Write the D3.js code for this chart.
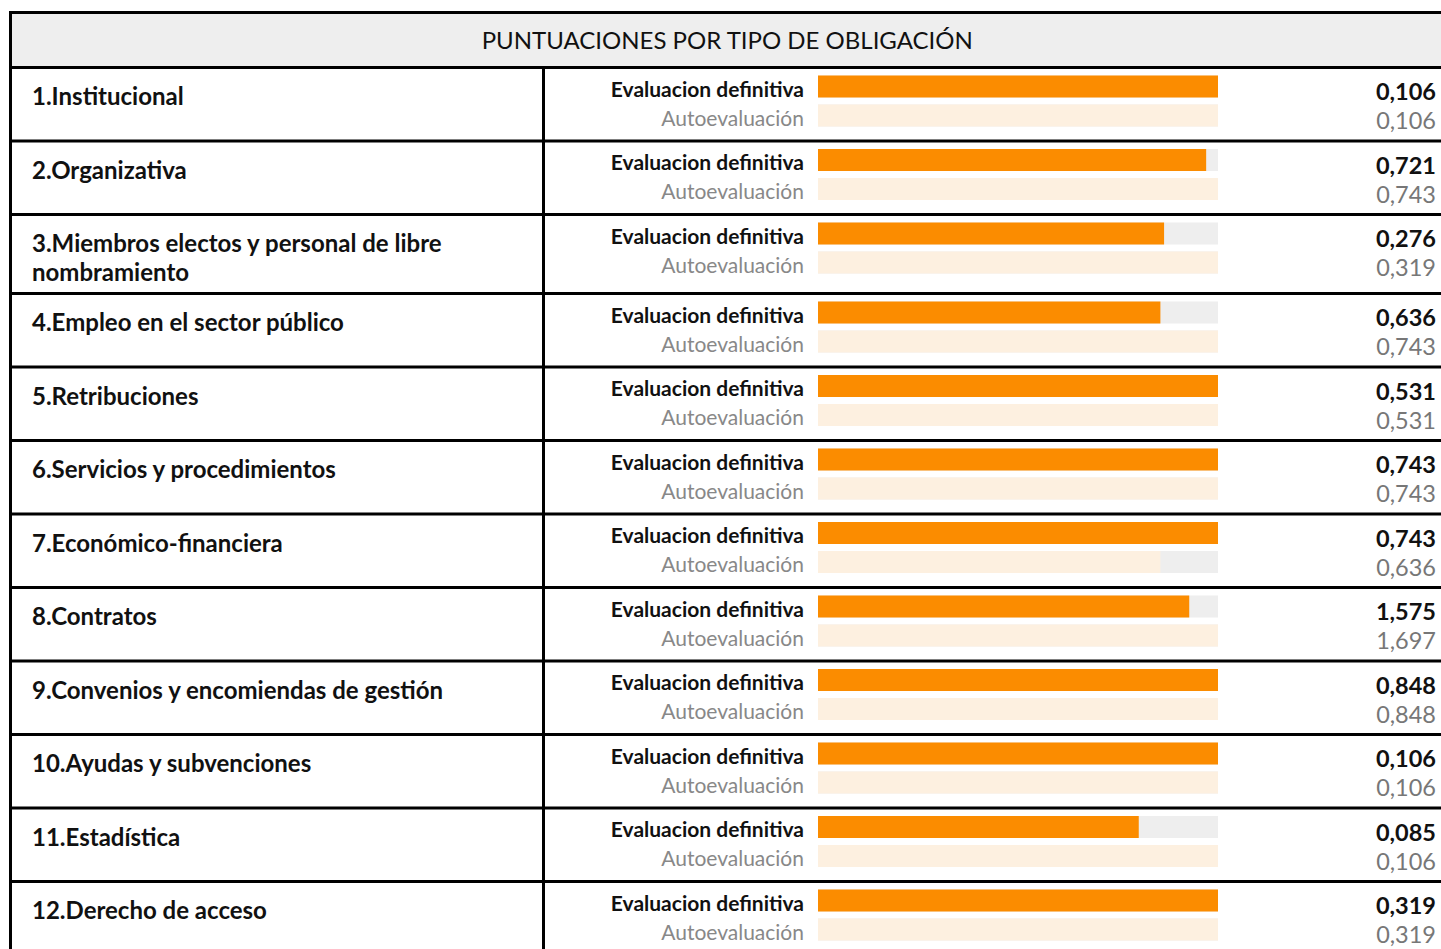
<!DOCTYPE html>
<html>
<head>
<meta charset="utf-8">
<script src="https://cdn.jsdelivr.net/npm/d3@7"></script>
<style>
  body { margin: 0; background: #fff; }
  svg { display: block; font-family: Lato, "Open Sans", sans-serif; }
</style>
</head>
<body>
<div id="chart"></div>
<script>
// Puntuaciones por tipo de obligación: definitive score vs self-evaluation
const title = "PUNTUACIONES POR TIPO DE OBLIGACIÓN";

const categories = [
    "1.Institucional",
    "2.Organizativa",
    "3.Miembros electos y personal de libre nombramiento",
    "4.Empleo en el sector público",
    "5.Retribuciones",
    "6.Servicios y procedimientos",
    "7.Económico-financiera",
    "8.Contratos",
    "9.Convenios y encomiendas de gestión",
    "10.Ayudas y subvenciones",
    "11.Estadística",
    "12.Derecho de acceso"
];

const definitiva = [0.106, 0.721, 0.276, 0.636, 0.531, 0.743, 0.743, 1.575, 0.848, 0.106, 0.085, 0.319];
const autoevaluacion = [0.106, 0.743, 0.319, 0.743, 0.531, 0.743, 0.636, 1.697, 0.848, 0.106, 0.106, 0.319];

const seriesLabels = ["Evaluacion definitiva", "Autoevaluación"];

const width = 1441;
const height = 949;

const table = { left: 10.5, top: 12.5, right: 1444, headerH: 55, divider: 543.5 };
const barX0 = 818, barX1 = 1218;
const lineH = 29;
const labelMaxW = 470;

const fmt = d3.formatLocale({ decimal: ",", thousands: ".", grouping: [3], currency: ["", "€"] }).format(".3f");

const svg = d3.select('#chart')
    .append('svg')
    .attr('width', width)
    .attr('height', height);

// header
svg.append('rect')
    .attr('x', table.left)
    .attr('y', table.top)
    .attr('width', table.right - table.left)
    .attr('height', table.headerH)
    .attr('fill', '#eeeeee');

svg.append('text')
    .attr('x', (table.left + table.right) / 2)
    .attr('y', table.top + 36.5)
    .attr('text-anchor', 'middle')
    .style('font-size', '24px')
    .attr('fill', '#111')
    .text(title);

// wrap labels to find out how many lines each row needs
const measure = svg.append('text')
    .style('font-size', '24px')
    .style('font-weight', 'bold')
    .attr('visibility', 'hidden');

function wrap(str) {
    const words = str.split(' ');
    const lines = [];
    let line = [];
    for (const w of words) {
        line.push(w);
        measure.text(line.join(' '));
        if (measure.node().getComputedTextLength() > labelMaxW && line.length > 1) {
            line.pop();
            lines.push(line.join(' '));
            line = [w];
        }
    }
    lines.push(line.join(' '));
    return lines;
}

const rows = categories.map((name, i) => ({
    name,
    lines: wrap(name),
    def: definitiva[i],
    auto: autoevaluacion[i]
}));
measure.remove();

let y = table.top + table.headerH;
rows.forEach(r => {
    r.y = y;
    r.h = Math.max(73.5, r.lines.length * lineH + 21);
    y += r.h;
});

const rowG = svg.append('g')
    .selectAll('g')
    .data(rows)
    .join('g')
    .attr('transform', d => `translate(0,${d.y})`);

// category label
rowG.append('text')
    .attr('x', 32)
    .attr('y', 37.5)
    .style('font-size', '24px')
    .style('font-weight', 'bold')
    .attr('fill', '#111')
    .selectAll('tspan')
    .data(d => d.lines)
    .join('tspan')
    .attr('x', 32)
    .attr('dy', (d, i) => i === 0 ? 0 : lineH)
    .text(d => d);

// bars: each row scaled to the larger of its two values
rowG.each(function (d) {
    const g = d3.select(this);
    const x = d3.scaleLinear()
        .domain([0, Math.max(d.def, d.auto)])
        .range([barX0, barX1]);

    const y = d3.scaleBand()
        .domain(seriesLabels)
        .range([8, 59])
        .paddingInner(7 / 29);

    const vals = [
        { key: seriesLabels[0], value: d.def, fill: '#fb8c00', text: '#111', weight: 'bold', num: '#111' },
        { key: seriesLabels[1], value: d.auto, fill: '#fdf0e0', text: '#888', weight: 'normal', num: '#777' }
    ];

    g.selectAll('rect.track')
        .data(vals)
        .join('rect')
        .attr('class', 'track')
        .attr('x', x(0))
        .attr('y', v => y(v.key))
        .attr('width', x.range()[1] - x(0))
        .attr('height', y.bandwidth())
        .attr('fill', '#eeeeee');

    g.selectAll('rect.bar')
        .data(vals)
        .join('rect')
        .attr('class', 'bar')
        .attr('x', x(0))
        .attr('y', v => y(v.key))
        .attr('width', v => x(v.value) - x(0))
        .attr('height', y.bandwidth())
        .attr('fill', v => v.fill);

    g.selectAll('text.serie')
        .data(vals)
        .join('text')
        .attr('class', 'serie')
        .attr('x', barX0 - 14)
        .attr('y', v => y(v.key) + y.bandwidth() - 1)
        .attr('text-anchor', 'end')
        .style('font-size', '21px')
        .style('font-weight', v => v.weight)
        .attr('fill', v => v.text)
        .text(v => v.key);

    g.selectAll('text.value')
        .data(vals)
        .join('text')
        .attr('class', 'value')
        .attr('x', 1436)
        .attr('y', v => y(v.key) + y.bandwidth() + 2.5)
        .attr('text-anchor', 'end')
        .style('font-size', '23.5px')
        .style('font-weight', v => v.weight)
        .attr('fill', v => v.num)
        .text(v => fmt(v.value));
});

// grid lines
const grid = svg.append('g')
    .attr('stroke', '#000')
    .attr('stroke-width', 3);

grid.selectAll('line.h')
    .data([table.top, ...rows.map(r => r.y)])
    .join('line')
    .attr('class', 'h')
    .attr('x1', table.left - 1.5)
    .attr('x2', table.right)
    .attr('y1', d => d)
    .attr('y2', d => d);

grid.append('line')
    .attr('x1', table.left).attr('x2', table.left)
    .attr('y1', table.top).attr('y2', height);

grid.append('line')
    .attr('x1', table.divider).attr('x2', table.divider)
    .attr('y1', table.top + table.headerH).attr('y2', height);
</script>
</body>
</html>
